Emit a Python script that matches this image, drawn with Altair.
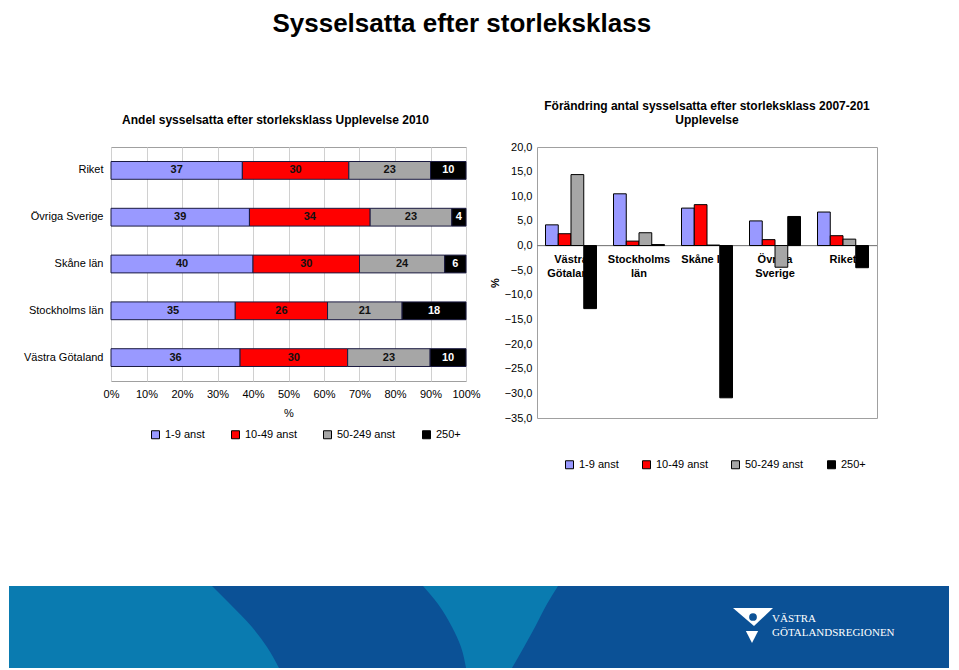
import altair as alt
import pandas as pd

FONT = "Liberation Sans"

# ---------------- data ----------------
series = ["1-9 anst", "10-49 anst", "50-249 anst", "250+"]
colors = ["#9999FF", "#FF0000", "#A6A6A6", "#000000"]

regions_left = ["Riket", "Övriga Sverige", "Skåne län", "Stockholms län", "Västra Götaland"]
share_1_9 = [37, 39, 40, 35, 36]
share_10_49 = [30, 34, 30, 26, 30]
share_50_249 = [23, 23, 24, 21, 23]
share_250 = [10, 4, 6, 18, 10]

regions_right = ["Västra Götaland", "Stockholms län", "Skåne län", "Övriga Sverige", "Riket"]
right_labels = ["Västra\nGötaland", "Stockholms\nlän", "Skåne län", "Övriga\nSverige", "Riket"]
chg_1_9 = [4.2, 10.5, 7.6, 5.0, 6.8]
chg_10_49 = [2.4, 0.9, 8.3, 1.2, 2.0]
chg_50_249 = [14.4, 2.6, 0.1, -4.4, 1.3]
chg_250 = [-12.8, 0.2, -30.9, 5.9, -4.5]

x_ticks_left = [0, 0.1, 0.2, 0.3, 0.4, 0.5, 0.6, 0.7, 0.8, 0.9, 1.0]
y_ticks_right = [-35, -30, -25, -20, -15, -10, -5, 0, 5, 10, 15, 20]

# footer decoration (band-local pixel units)
foot_depth = [0, 18, 41, 61, 82]
foot_left_edge = [203, 221, 243, 258, 270]
foot_mid_left = [414, 429, 443, 452, 457]
foot_mid_right = [549, 538, 526, 515, 503]

# ---------------- tables ----------------
left_rows = []
for i, r in enumerate(regions_left):
    for k, vals in enumerate([share_1_9, share_10_49, share_50_249, share_250]):
        left_rows.append({"region": r, "series": series[k], "order": k, "value": vals[i]})
left_df = pd.DataFrame(left_rows)

right_rows = []
for i, r in enumerate(regions_right):
    for k, vals in enumerate([chg_1_9, chg_10_49, chg_50_249, chg_250]):
        right_rows.append({"region": r, "series": series[k], "order": k, "value": vals[i]})
right_df = pd.DataFrame(right_rows)
right_lab_df = pd.DataFrame({"region": regions_right, "label": right_labels})

color_scale = alt.Scale(domain=series, range=colors)

def legend(lx, ly, pad):
    return alt.Legend(
        title=None, orient="none", legendX=lx, legendY=ly, direction="horizontal",
        symbolType="square", symbolSize=64, symbolStrokeColor="#000000", symbolStrokeWidth=1,
        labelFont=FONT, labelFontSize=11, labelColor="#000000", columnPadding=pad,
    )

LEFT_EXT = 102  # left axis extent of the left panel

# ---------------- left chart ----------------
left_base = alt.Chart(left_df).transform_stack(
    stack="value", groupby=["region"], as_=["x0", "x1"], offset="normalize",
    sort=[alt.SortField("order")],
).transform_calculate(mid="(datum.x0 + datum.x1) / 2")

left_x_scale = alt.Scale(domain=[0, 1], nice=False)
left_x_axis = alt.Axis(values=x_ticks_left, format=".0%", title="%",
                       labelFont=FONT, labelFontSize=11, labelColor="#000000",
                       titleFont=FONT, titleFontSize=11, titleFontWeight="normal",
                       titleColor="#000000", ticks=False, domain=False,
                       gridColor="#d0d0d0", labelPadding=7, titlePadding=8,
                       labelOverlap=False, labelFlush=False)
left_y_scale = alt.Scale(paddingInner=0.62, paddingOuter=0.31)
left_y_axis = alt.Axis(title=None, labelFont=FONT, labelFontSize=11, labelColor="#000000",
                       ticks=False, domain=False, labelPadding=8, minExtent=LEFT_EXT)

left_bars = left_base.mark_bar(stroke="#1a1a40", strokeWidth=1).encode(
    x=alt.X("x0:Q", scale=left_x_scale, axis=left_x_axis),
    x2="x1:Q",
    y=alt.Y("region:N", sort=regions_left, scale=left_y_scale, axis=left_y_axis),
    color=alt.Color("series:N", scale=color_scale, sort=series, legend=legend(39, 282, 24)),
)

left_text = left_base.mark_text(font=FONT, fontSize=11, fontWeight="bold").encode(
    x=alt.X("mid:Q", scale=left_x_scale, axis=left_x_axis),
    y=alt.Y("region:N", sort=regions_left, scale=left_y_scale, axis=left_y_axis),
    text=alt.Text("value:Q"),
    color=alt.condition(alt.datum.series == "250+", alt.value("#ffffff"), alt.value("#111111")),
)

left_chart = alt.layer(left_bars, left_text).properties(
    width=355, height=234,
    title=alt.TitleParams("Andel sysselsatta efter storleksklass Upplevelse 2010",
                          font=FONT, fontSize=12, fontWeight="bold", color="#000000",
                          frame="group", dx=-13, offset=20),
)

# ---------------- right chart ----------------
x_right = alt.X("region:N", sort=regions_right, axis=None,
                scale=alt.Scale(paddingInner=0.25, paddingOuter=0.125))
right_y_scale = alt.Scale(domain=[-35, 20], nice=False, zero=False)
right_y_axis = alt.Axis(values=y_ticks_right, title="%", titleAngle=-90,
                        labelExpr="replace(format(datum.value, '.1f'), '.', ',')",
                        labelFont=FONT, labelFontSize=11, labelColor="#000000",
                        titleFont=FONT, titleFontSize=11, titleFontWeight="bold",
                        titleColor="#000000", ticks=False, domain=False,
                        gridColor="#d0d0d0", labelPadding=5, titlePadding=4,
                        labelOverlap=False)

right_labels_layer = alt.Chart(right_lab_df).mark_text(
    font=FONT, fontSize=11, fontWeight="bold", baseline="top", lineBreak="\n",
    lineHeight=14, dy=8, color="#000000",
).encode(
    x=x_right,
    y=alt.YDatum(0, scale=right_y_scale, axis=right_y_axis),
    text="label:N",
)

zero_rule = alt.Chart(right_lab_df).mark_rule(color="#808080", strokeWidth=1).encode(
    y=alt.YDatum(0, scale=right_y_scale, axis=right_y_axis)
)

right_bars = alt.Chart(right_df).mark_bar(stroke="#000000", strokeWidth=1).encode(
    x=x_right,
    xOffset=alt.XOffset("series:N", sort=series, scale=alt.Scale(paddingInner=0)),
    y=alt.Y("value:Q", scale=right_y_scale, axis=right_y_axis),
    color=alt.Color("series:N", scale=color_scale, sort=series, legend=legend(27, 312, 21)),
)

right_chart = alt.layer(right_labels_layer, zero_rule, right_bars).properties(
    width=340, height=271,
    title=alt.TitleParams(["Förändring antal sysselsatta efter storleksklass 2007-201", "Upplevelse"],
                          font=FONT, fontSize=12, fontWeight="bold", color="#000000",
                          frame="group", offset=14, lineHeight=14),
)

top = alt.concat(left_chart, right_chart, columns=2, spacing=7, align="none").resolve_scale(
    color="independent").resolve_legend(color="independent")

# ---------------- footer band ----------------
FW, FH = 940, 82
foot_df = pd.DataFrame({"d": foot_depth, "l0": [0] * 5, "l1": foot_left_edge,
                        "m0": foot_mid_left, "m1": foot_mid_right})
# footer drawn shifted left so it starts at the page's left edge
fx = alt.Scale(domain=[0, FW], range=[-LEFT_EXT, FW - LEFT_EXT], nice=False)
fy = alt.Scale(domain=[0, FH], nice=False, reverse=True)

foot_bg = alt.Chart(foot_df).mark_rect(color="#0b5196").encode(
    x=alt.value(-LEFT_EXT), x2=alt.value(FW - LEFT_EXT), y=alt.value(0), y2=alt.value(FH))
foot_a = alt.Chart(foot_df).mark_area(orient="horizontal", color="#0a7bb0", interpolate="monotone").encode(
    y=alt.Y("d:Q", scale=fy, axis=None), x=alt.X("l0:Q", scale=fx, axis=None), x2="l1:Q")
foot_b = alt.Chart(foot_df).mark_area(orient="horizontal", color="#0a7bb0", interpolate="monotone").encode(
    y=alt.Y("d:Q", scale=fy, axis=None), x=alt.X("m0:Q", scale=fx, axis=None), x2="m1:Q")

logo_df = pd.DataFrame({"t": ["VÄSTRA", "GÖTALANDSREGIONEN"], "px": [763, 763], "py": [33, 47]})
logo_text = alt.Chart(logo_df).mark_text(
    font="Liberation Serif", fontSize=11, color="#ffffff", align="left", baseline="middle"
).encode(x=alt.X("px:Q", scale=fx, axis=None), y=alt.Y("py:Q", scale=fy, axis=None), text="t:N")

logo_v_df = pd.DataFrame({"px": [744], "py": [31]})
logo_v = alt.Chart(logo_v_df).mark_point(
    shape="M -1 -0.45 L 1 -0.45 L 0.05 0.45 Z", filled=True, color="#ffffff", opacity=1, size=1600
).encode(x=alt.X("px:Q", scale=fx, axis=None), y=alt.Y("py:Q", scale=fy, axis=None))
logo_swirl = alt.Chart(logo_v_df).mark_point(
    shape="circle", filled=True, color="#0b5196", opacity=1, size=60
).encode(x=alt.X("px:Q", scale=fx, axis=None), y=alt.Y("py:Q", scale=fy, axis=None))
logo_tri_df = pd.DataFrame({"px": [743], "py": [51]})
logo_tri = alt.Chart(logo_tri_df).mark_point(
    shape="M -1 -1 L 1 -1 L 0 1 Z", filled=True, color="#ffffff", opacity=1, size=150
).encode(x=alt.X("px:Q", scale=fx, axis=None), y=alt.Y("py:Q", scale=fy, axis=None))

footer = alt.layer(foot_bg, foot_a, foot_b, logo_v, logo_swirl, logo_tri, logo_text).properties(
    width=FW - LEFT_EXT, height=FH, view=alt.ViewBackground(stroke=None))

chart = alt.concat(top, footer, columns=1, spacing=114, align="none").properties(
    padding={"left": 0, "top": 2, "right": 0, "bottom": 0},
    title=alt.TitleParams("Sysselsatta efter storleksklass", font=FONT, fontSize=26,
                          fontWeight="bold", color="#000000", anchor="middle", dx=-17,
                          offset=63),
).configure_view(stroke="#a0a0a0")

chart.save("out.html", embed_options={"renderer": "svg", "actions": False})
